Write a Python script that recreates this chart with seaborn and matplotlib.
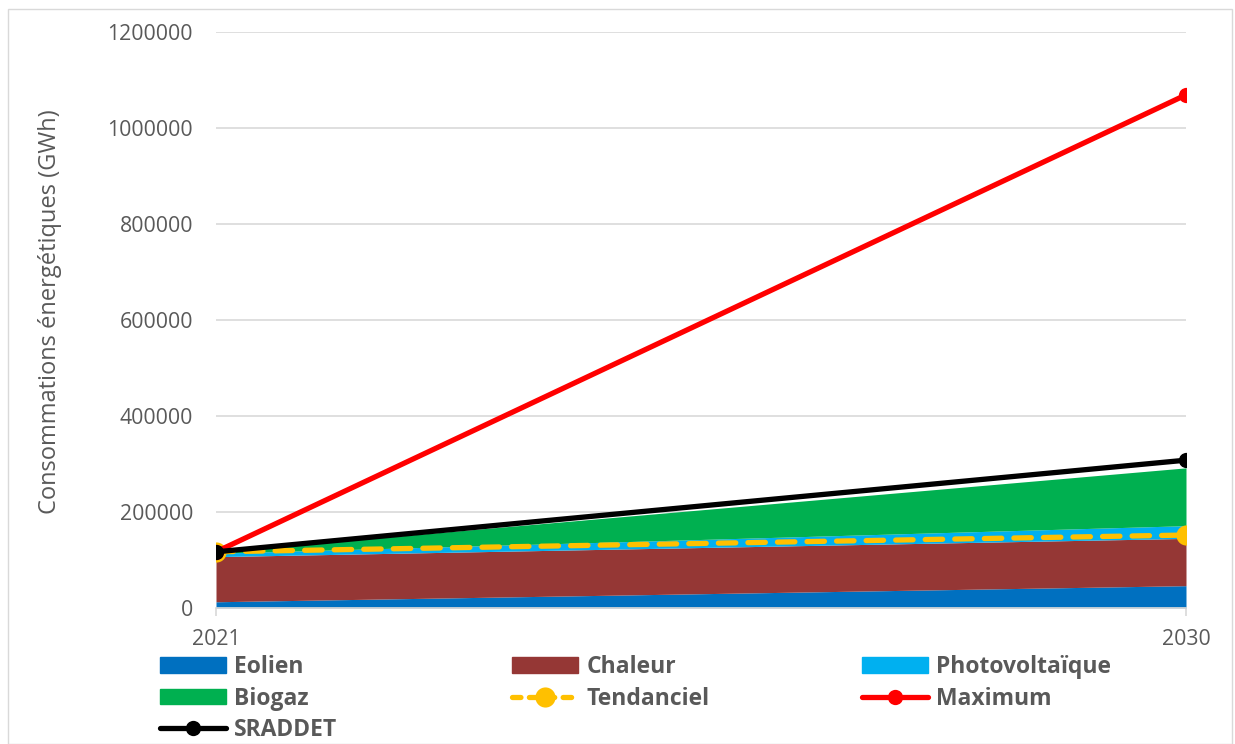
import numpy as np
import pandas as pd
import matplotlib
matplotlib.use("Agg")
import matplotlib.pyplot as plt
import seaborn as sns
from matplotlib.patches import Rectangle, Patch
from matplotlib.lines import Line2D

# values (GWh)
years = [2021, 2030]
eolien = [13000, 46500]
chaleur = [94000, 98500]
photovoltaique = [7000, 26500]
biogaz = [3000, 120500]
tendanciel = [117000, 152000]
maximum = [117000, 1069000]
sraddet = [117000, 308000]

area_labels = ["Eolien", "Chaleur", "Photovoltaïque", "Biogaz"]
area_colors = ["#0070C0", "#953735", "#00B0F0", "#00B050"]

sns.set_theme(style="white")
plt.rcParams["font.family"] = ["Open Sans", "DejaVu Sans"]
grey = "#595959"
dash = (0, (3.3, 2.3))

fig = plt.figure(figsize=(12.35, 7.44), dpi=100)
ax = fig.add_axes([216 / 1235, 1 - 608 / 744, (1186 - 216) / 1235, (608 - 32) / 744])

ax.stackplot(years, eolien, chaleur, photovoltaique, biogaz,
             colors=area_colors, linewidth=0, zorder=2)

lines = pd.DataFrame({
    "year": years * 3,
    "value": tendanciel + maximum + sraddet,
    "serie": ["Tendanciel"] * 2 + ["Maximum"] * 2 + ["SRADDET"] * 2,
})
sns.lineplot(data=lines[lines.serie == "Tendanciel"], x="year", y="value",
             color="#FFC000", lw=3.8, ls=dash, dash_capstyle="round",
             marker="o", ms=14.5, markeredgewidth=0, ax=ax, zorder=4)
sns.lineplot(data=lines[lines.serie == "Maximum"], x="year", y="value",
             color="#FF0000", lw=3.8, marker="o", ms=11, markeredgewidth=0,
             ax=ax, zorder=5)
sns.lineplot(data=lines[lines.serie == "SRADDET"], x="year", y="value",
             color="black", lw=3.8, marker="o", ms=11, markeredgewidth=0,
             ax=ax, zorder=6)
if ax.get_legend() is not None:
    ax.get_legend().remove()

ax.set_xlim(2021, 2030)
ax.set_ylim(0, 1200000)
ax.set_xticks(years)
ax.set_xticklabels([str(y) for y in years])
ax.set_yticks(np.arange(0, 1200001, 200000))
ax.set_yticklabels([f"{int(v)}" for v in np.arange(0, 1200001, 200000)])
ax.yaxis.grid(True, color="#D9D9D9", lw=1.2, zorder=0)
ax.set_axisbelow(True)
ax.set_xlabel("")
ax.set_ylabel("Consommations énergétiques (GWh)", color=grey, fontsize=17)
ax.yaxis.set_label_coords(-(216 - 62) / 970, 0.514)
for s in ["top", "right", "left"]:
    ax.spines[s].set_visible(False)
ax.spines["bottom"].set_color("#D9D9D9")
ax.tick_params(axis="y", length=0, pad=16.5, labelcolor=grey, labelsize=15.3)
ax.tick_params(axis="x", bottom=True, length=6, color="#D9D9D9", pad=9,
               labelcolor=grey, labelsize=15.3)

# legend: three single-column blocks, filled row by row like the original
h = {
    "Eolien": Patch(color=area_colors[0]),
    "Chaleur": Patch(color=area_colors[1]),
    "Photovoltaïque": Patch(color=area_colors[2]),
    "Biogaz": Patch(color=area_colors[3]),
    "Tendanciel": Line2D([], [], color="#FFC000", lw=3.8, ls=(0, (1.6, 1.6)),
                         dash_capstyle="round", marker="o", ms=14.5,
                         markeredgewidth=0),
    "Maximum": Line2D([], [], color="#FF0000", lw=3.8, marker="o", ms=11,
                      markeredgewidth=0),
    "SRADDET": Line2D([], [], color="black", lw=3.8, marker="o", ms=11,
                      markeredgewidth=0),
}
columns = [["Eolien", "Biogaz", "SRADDET"],
           ["Chaleur", "Tendanciel"],
           ["Photovoltaïque", "Maximum"]]
col_x = [160, 512, 862]
for names, x0 in zip(columns, col_x):
    leg = fig.legend([h[k] for k in names], names, ncol=1, frameon=False,
                     loc="upper left", bbox_to_anchor=(x0 / 1235, 1 - 655 / 744),
                     borderpad=0, borderaxespad=0,
                     handlelength=2.9, handleheight=0.68, handletextpad=0.34,
                     labelspacing=0.33, prop={"weight": "bold", "size": 16.5})
    for t in leg.get_texts():
        t.set_color(grey)

fig.patches.append(Rectangle((8 / 1235, 0), 1224 / 1235, 1 - 9 / 744,
                             transform=fig.transFigure, fill=False,
                             edgecolor="#D9D9D9", lw=1))

fig.savefig("out.png", dpi=100)
